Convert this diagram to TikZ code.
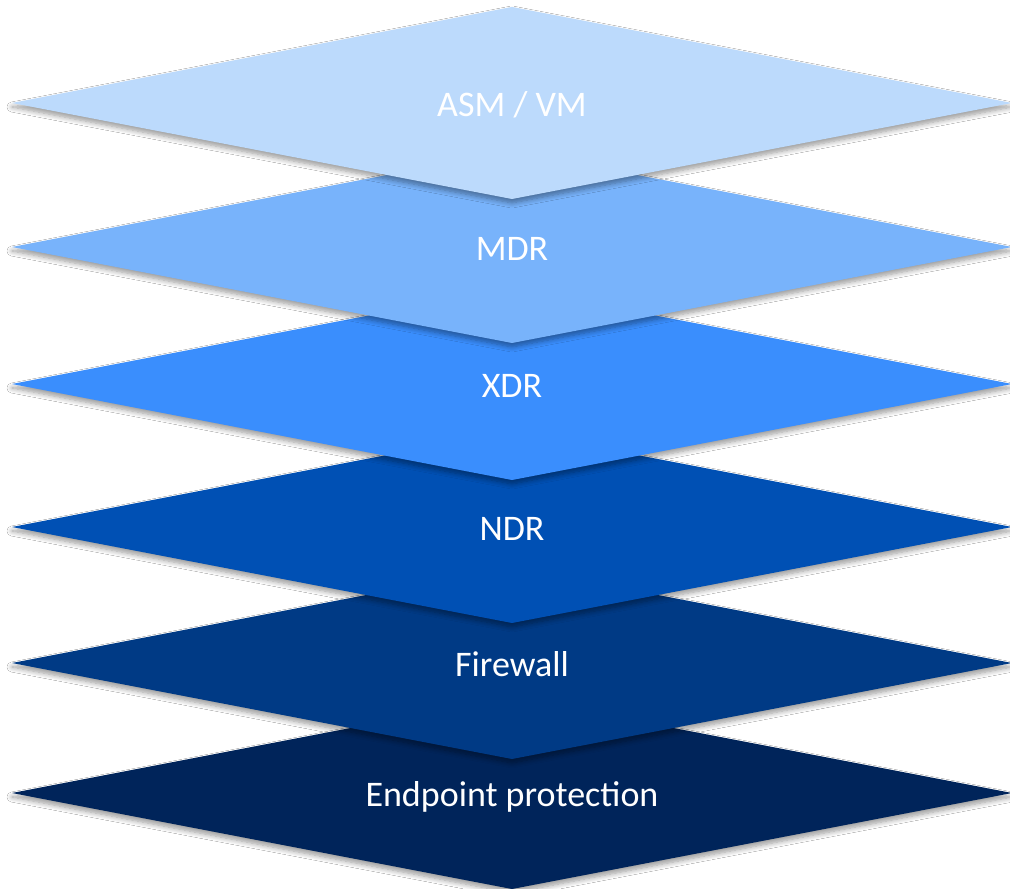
\documentclass[tikz,border=0pt]{standalone}
\usepackage{fontspec}
\setmainfont{Carlito}
\usetikzlibrary{shadows.blur}
\definecolor{cA}{RGB}{188,218,252}
\definecolor{cB}{RGB}{120,179,251}
\definecolor{cC}{RGB}{58,142,253}
\definecolor{cD}{RGB}{0,80,180}
\definecolor{cE}{RGB}{0,58,133}
\definecolor{cF}{RGB}{0,36,90}
\begin{document}
\begin{tikzpicture}[x=1pt,y=-1pt,
  layer/.style={blur shadow={shadow xshift=0pt,shadow yshift=-4pt,shadow opacity=40,shadow blur steps=8,shadow blur radius=5pt}},
  lbl/.style={text=white,anchor=base,font=\fontsize{36}{42}\selectfont}]
\useasboundingbox[fill=white] (0,0) rectangle (1010,889);
\begin{scope}
\clip (0,0) rectangle (1010,889);
\foreach \y/\c/\t/\n in {793/cF/{Endpoint protection}/ep, 663/cE/{Firewall}/fw, 527/cD/{NDR}/ndr, 384/cC/{XDR}/xdr, 247/cB/{MDR}/mdr, 103/cA/{ASM / VM}/asm}{
  \fill[layer,fill=\c] (512,\y-96) -- (1012,\y) -- (512,\y+96) -- (12,\y) -- cycle;
  \node[lbl] (\n) at (512,\y+13) {\t};
}
\end{scope}
\end{tikzpicture}
\end{document}
